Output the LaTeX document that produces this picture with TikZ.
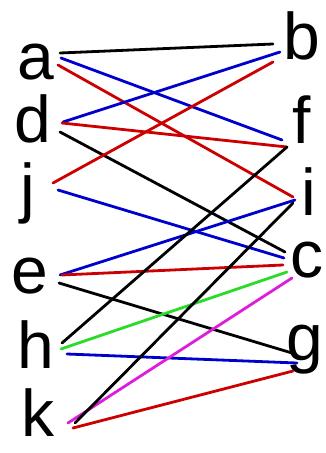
\documentclass[tikz,border=0pt]{standalone}
\usepackage{fontspec}
\setmainfont{Liberation Sans}
\usetikzlibrary{calc}

\definecolor{penblue}{RGB}{0,0,204}
\definecolor{penred}{RGB}{204,0,0}
\definecolor{pengreen}{RGB}{40,220,40}
\definecolor{penpink}{RGB}{220,30,220}

\begin{document}
\begin{tikzpicture}[
  x=1pt, y=-1pt,
  letter/.style={inner sep=0pt, font=\fontsize{66}{66}\selectfont},
  pen/.style={line width=2.8pt, line cap=round, line join=round}
]
\useasboundingbox (0,0) rectangle (325,453);

% left column
\node[letter] (a) at (36,62) {a};
\node[letter] (d) at (33,119) {d};
\node[letter] (j) at (28,193) {j};
\node[letter] (e) at (30,276) {e};
\node[letter] (h) at (36,345) {h};
\node[letter] (k) at (38,413) {k};

% right column
\node[letter] (b) at (302,36) {b};
\node[letter] (f) at (302,120) {f};
\node[letter] (i) at (309,192) {i};
\node[letter] (c) at (307,260) {c};
\node[letter] (g) at (305,350) {g};

% edges
\draw[pen, black] ($(a)+(24,-9)$) -- ($(b)+(-29,8)$);
\draw[pen, penblue] ($(a)+(25,-4)$) -- ($(f)+(-20,20)$);
\draw[pen, penred] ($(a)+(22,3)$) -- ($(i)+(-16,5)$);

\draw[pen, penblue] ($(d)+(30,3)$) -- ($(b)+(-22,16)$);
\draw[pen, penred] ($(d)+(29,4)$) -- ($(f)+(-15,27)$);
\draw[pen, black] ($(d)+(27,13)$) -- ($(c)+(-22,-8)$);

\draw[pen, penred] ($(j)+(25,-10)$) -- ($(b)+(-29,26)$);
\draw[pen, penblue] ($(j)+(30,-3)$) -- ($(c)+(-23,-2)$);

\draw[pen, penblue] ($(e)+(30,-1)$) -- ($(i)+(-14,8)$);
\draw[pen, penred] ($(e)+(32,-1)$) -- ($(c)+(-24,5)$);
\draw[pen, black] ($(e)+(29,7)$) -- ($(g)+(-13,3)$);

\draw[pen, black] ($(h)+(26,-2)$) -- ($(f)+(-15,27)$);
\draw[pen, pengreen] ($(h)+(25,4)$) -- ($(c)+(-20,12)$);
\draw[pen, penblue] ($(h)+(31,9)$) -- ($(g)+(-8,13)$);

\draw[pen, penpink] ($(k)+(30,10)$) -- ($(c)+(-15,18)$);
\draw[pen, black] ($(k)+(37,10)$) -- ($(i)+(-16,11)$);
\draw[pen, penred] ($(k)+(35,15)$) -- ($(g)+(-12,21)$);

\end{tikzpicture}
\end{document}
